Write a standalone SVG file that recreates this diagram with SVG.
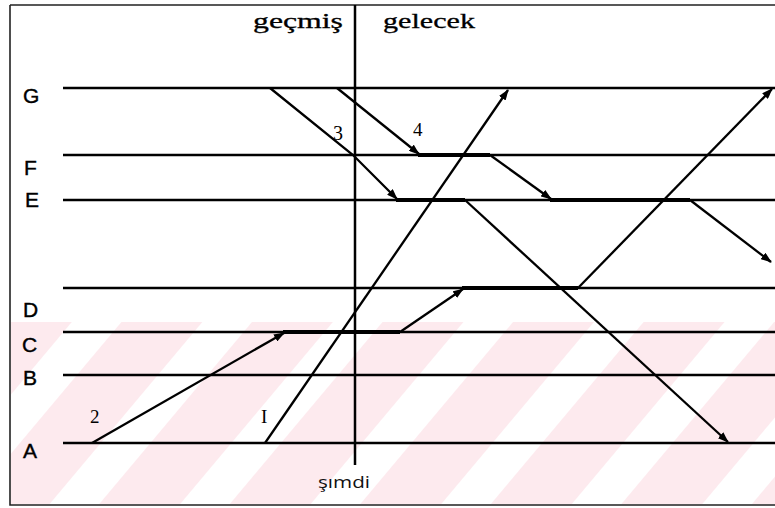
<svg xmlns="http://www.w3.org/2000/svg" width="775" height="508" viewBox="0 0 775 508">
<defs>
<style>
.lbl{font-family:"Liberation Sans",Arial,sans-serif;font-size:21px;fill:#000;stroke:#000;stroke-width:0.4}
.ser{font-family:"Liberation Serif","Times New Roman",serif;fill:#000}
.ax{stroke:#000;stroke-width:2.5;fill:none}
.sig{stroke:#000;stroke-width:2.3;fill:none}
.wait{stroke:#000;stroke-width:4.2;fill:none}
.frame{stroke:#222;stroke-width:1.6;fill:none}
</style>
<marker id="ah" markerWidth="11" markerHeight="8" refX="10" refY="4" orient="auto" markerUnits="userSpaceOnUse">
<path d="M0,0 L11,4 L0,8 z" fill="#000"/>
</marker>
<pattern id="wm" width="100" height="100" patternUnits="userSpaceOnUse" patternTransform="rotate(40)">
<rect x="0" y="0" width="62" height="100" fill="#fdeaee"/>
</pattern>
</defs>
<rect width="775" height="508" fill="#fff"/>
<rect x="11" y="322" width="764" height="182" fill="url(#wm)"/>
<g id="frame">
<path class="frame" d="M10,5 H775 M10,5 V505 H775"/>
</g>
<g id="now-axis">
<line class="ax" x1="355" y1="5" x2="355" y2="465" stroke-width="2"/>
<text class="ser" x="253" y="28" font-size="22" textLength="90" lengthAdjust="spacingAndGlyphs" stroke="#000" stroke-width="0.3">geçmiş</text>
<text class="ser" x="383" y="28" font-size="22" textLength="92" lengthAdjust="spacingAndGlyphs" stroke="#000" stroke-width="0.3">gelecek</text>
<text x="318" y="488" font-family="'Open Sans','DejaVu Sans',sans-serif" font-size="17" fill="#111" textLength="52" lengthAdjust="spacingAndGlyphs">şımdi</text>
</g>
<g id="lines">
<line class="ax" x1="63" y1="88" x2="775" y2="88" stroke-width="3"/>
<line class="ax" x1="63" y1="155" x2="775" y2="155"/>
<line class="ax" x1="63" y1="200" x2="775" y2="200"/>
<line class="ax" x1="63" y1="288" x2="775" y2="288"/>
<line class="ax" x1="63" y1="332" x2="775" y2="332"/>
<line class="ax" x1="63" y1="375" x2="775" y2="375"/>
<line class="ax" x1="63" y1="443" x2="775" y2="443"/>
</g>
<g id="labels">
<text class="lbl" x="23" y="103">G</text>
<text class="lbl" x="24" y="175">F</text>
<text class="lbl" x="25" y="207">E</text>
<text class="lbl" x="23" y="317">D</text>
<text class="lbl" x="22" y="352">C</text>
<text class="lbl" x="23" y="385">B</text>
<text class="lbl" x="23" y="458">A</text>
</g>
<g id="connectors">
<line class="sig" x1="265" y1="443" x2="508" y2="90" marker-end="url(#ah)"/>
<line class="sig" x1="92" y1="443" x2="284" y2="333" marker-end="url(#ah)"/>
<line class="wait" x1="283" y1="332" x2="400" y2="332"/>
<line class="sig" x1="400" y1="332" x2="463" y2="289" marker-end="url(#ah)"/>
<line class="wait" x1="462" y1="288" x2="578" y2="288"/>
<line class="sig" x1="578" y1="288" x2="772" y2="89" marker-end="url(#ah)"/>
<polyline class="sig" points="270,88 353,155 397,199" marker-end="url(#ah)"/>
<line class="wait" x1="396" y1="200" x2="465" y2="200"/>
<line class="sig" x1="465" y1="200" x2="728" y2="442" marker-end="url(#ah)"/>
<line class="sig" x1="337" y1="88" x2="419" y2="154" marker-end="url(#ah)"/>
<line class="wait" x1="418" y1="155" x2="490" y2="155"/>
<line class="sig" x1="490" y1="155" x2="551" y2="199" marker-end="url(#ah)"/>
<line class="wait" x1="550" y1="200" x2="690" y2="200"/>
<line class="sig" x1="690" y1="200" x2="771" y2="262" marker-end="url(#ah)"/>
</g>
<g id="numbers">
<text class="ser" x="333" y="140" font-size="20">3</text>
<text class="ser" x="413" y="136" font-size="19">4</text>
<text class="ser" x="90" y="423" font-size="19">2</text>
<text class="ser" x="261" y="423" font-size="19">I</text>
</g>
</svg>
